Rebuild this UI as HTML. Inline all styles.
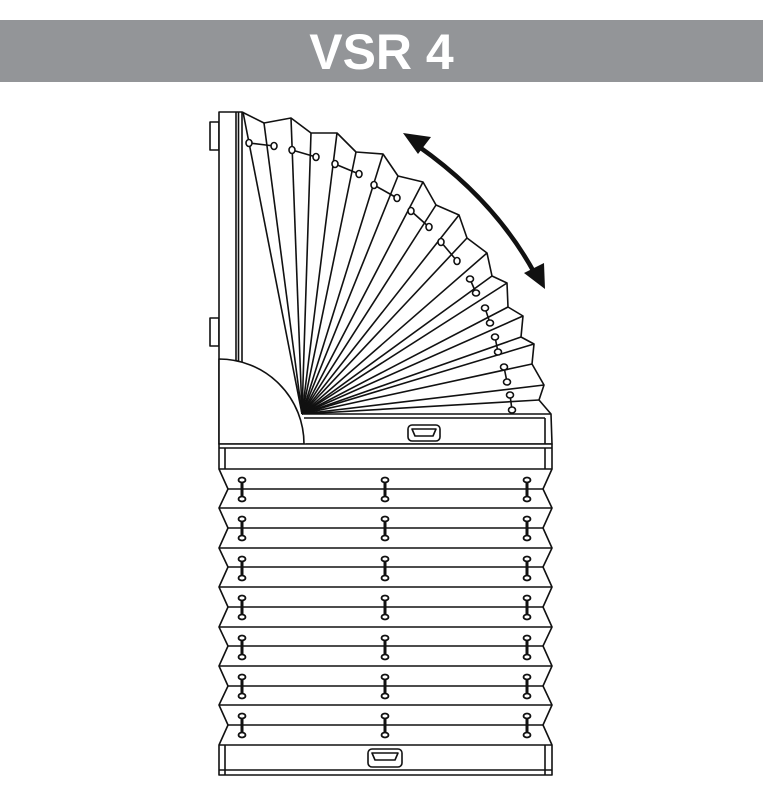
<!DOCTYPE html>
<html><head><meta charset="utf-8"><style>
html,body{margin:0;padding:0;background:#fff;width:763px;height:800px;overflow:hidden}
</style></head><body>
<svg width="763" height="800" viewBox="0 0 763 800" xmlns="http://www.w3.org/2000/svg">
<rect x="0" y="20" width="763" height="62" fill="#939598"/>
<text x="381.5" y="69" text-anchor="middle" font-family="Liberation Sans, sans-serif" font-weight="bold" font-size="50" fill="#fff">VSR 4</text>
<g fill="none" stroke="#111" stroke-width="1.6" stroke-linejoin="round">
<rect x="210" y="122" width="9" height="28" fill="#fff"/>
<rect x="210" y="318" width="9" height="28" fill="#fff"/>
<rect x="219" y="112" width="23" height="332" fill="#fff"/>
<line x1="236" y1="112" x2="236" y2="362"/>
<line x1="238.5" y1="112" x2="238.5" y2="362"/>
<g>
<line x1="302" y1="414" x2="243" y2="112"/>
<line x1="302" y1="414" x2="264" y2="123"/>
<line x1="302" y1="414" x2="291" y2="118"/>
<line x1="302" y1="414" x2="311" y2="133"/>
<line x1="302" y1="414" x2="337" y2="133"/>
<line x1="302" y1="414" x2="356" y2="152"/>
<line x1="302" y1="414" x2="383" y2="154"/>
<line x1="302" y1="414" x2="398" y2="176"/>
<line x1="302" y1="414" x2="423" y2="182"/>
<line x1="302" y1="414" x2="436" y2="205"/>
<line x1="302" y1="414" x2="459" y2="215"/>
<line x1="302" y1="414" x2="467" y2="238"/>
<line x1="302" y1="414" x2="487" y2="253"/>
<line x1="302" y1="414" x2="492" y2="276"/>
<line x1="302" y1="414" x2="507" y2="283"/>
<line x1="302" y1="414" x2="508" y2="307"/>
<line x1="302" y1="414" x2="523" y2="316"/>
<line x1="302" y1="414" x2="521" y2="337"/>
<line x1="302" y1="414" x2="534" y2="344"/>
<line x1="302" y1="414" x2="532" y2="364"/>
<line x1="302" y1="414" x2="544" y2="385"/>
<line x1="302" y1="414" x2="539" y2="400"/>
</g>
<polyline points="242,112 264,123 291,118 311,133 337,133 356,152 383,154 398,176 423,182 436,205 459,215 467,238 487,253 492,276 507,283 508,307 523,316 521,337 534,344 532,364 544,385 539,400 551,414"/>
<path d="M219,444 L219,359 A85,85 0 0 1 304,444 Z" fill="#fff"/>
<path d="M304,414 L551,414 L552,444 L306,444" fill="#fff"/>
<line x1="304" y1="418" x2="545" y2="418"/>
<line x1="545" y1="418" x2="545" y2="444"/>
<rect x="408" y="425" width="32" height="16" rx="4" fill="#fff"/>
<path d="M412,429 L436,429 L433,436 L415,436 Z"/>
<g>
<line x1="249" y1="143" x2="274" y2="146"/><ellipse cx="249" cy="143" rx="3" ry="3.5" fill="#fff"/><ellipse cx="274" cy="146" rx="3" ry="3.5" fill="#fff"/>
<line x1="292" y1="150" x2="316" y2="157"/><ellipse cx="292" cy="150" rx="3" ry="3.5" fill="#fff"/><ellipse cx="316" cy="157" rx="3" ry="3.5" fill="#fff"/>
<line x1="335" y1="164" x2="359" y2="174"/><ellipse cx="335" cy="164" rx="3" ry="3.5" fill="#fff"/><ellipse cx="359" cy="174" rx="3" ry="3.5" fill="#fff"/>
<line x1="374" y1="185" x2="397" y2="198"/><ellipse cx="374" cy="185" rx="3" ry="3.5" fill="#fff"/><ellipse cx="397" cy="198" rx="3" ry="3.5" fill="#fff"/>
<line x1="411" y1="211" x2="429" y2="227"/><ellipse cx="411" cy="211" rx="3" ry="3.5" fill="#fff"/><ellipse cx="429" cy="227" rx="3" ry="3.5" fill="#fff"/>
<line x1="441" y1="242" x2="457" y2="261"/><ellipse cx="441" cy="242" rx="3" ry="3.5" fill="#fff"/><ellipse cx="457" cy="261" rx="3" ry="3.5" fill="#fff"/>
<line x1="470" y1="279" x2="476" y2="293"/><ellipse cx="470" cy="279" rx="3.5" ry="3" fill="#fff"/><ellipse cx="476" cy="293" rx="3.5" ry="3" fill="#fff"/>
<line x1="485" y1="308" x2="490" y2="323"/><ellipse cx="485" cy="308" rx="3.5" ry="3" fill="#fff"/><ellipse cx="490" cy="323" rx="3.5" ry="3" fill="#fff"/>
<line x1="495" y1="337" x2="498" y2="352"/><ellipse cx="495" cy="337" rx="3.5" ry="3" fill="#fff"/><ellipse cx="498" cy="352" rx="3.5" ry="3" fill="#fff"/>
<line x1="504" y1="367" x2="507" y2="382"/><ellipse cx="504" cy="367" rx="3.5" ry="3" fill="#fff"/><ellipse cx="507" cy="382" rx="3.5" ry="3" fill="#fff"/>
<line x1="510" y1="395" x2="512" y2="410"/><ellipse cx="510" cy="395" rx="3.5" ry="3" fill="#fff"/><ellipse cx="512" cy="410" rx="3.5" ry="3" fill="#fff"/>
</g>
<rect x="219" y="444" width="333" height="25" fill="#fff"/>
<line x1="219" y1="448" x2="552" y2="448"/>
<line x1="225" y1="448" x2="225" y2="469"/>
<line x1="545" y1="448" x2="545" y2="469"/>
<polyline points="219,469 228,489 219,508 228,528 219,548 228,567 219,587 228,607 219,627 228,646 219,666 228,686 219,705 228,725 219,745"/>
<polyline points="552,469 543,489 552,508 543,528 552,548 543,567 552,587 543,607 552,627 543,646 552,666 543,686 552,705 543,725 552,745"/>
<g>
<line x1="219" y1="508" x2="552" y2="508"/><line x1="219" y1="548" x2="552" y2="548"/><line x1="219" y1="587" x2="552" y2="587"/><line x1="219" y1="627" x2="552" y2="627"/><line x1="219" y1="666" x2="552" y2="666"/><line x1="219" y1="705" x2="552" y2="705"/>
<line x1="228" y1="489" x2="543" y2="489"/><line x1="228" y1="528" x2="543" y2="528"/><line x1="228" y1="567" x2="543" y2="567"/><line x1="228" y1="607" x2="543" y2="607"/><line x1="228" y1="646" x2="543" y2="646"/><line x1="228" y1="686" x2="543" y2="686"/><line x1="228" y1="725" x2="543" y2="725"/>
</g>
<rect x="219" y="745" width="333" height="30" fill="#fff"/>
<line x1="225" y1="745" x2="225" y2="775"/>
<line x1="545" y1="745" x2="545" y2="775"/>
<line x1="219" y1="770" x2="552" y2="770"/>
<rect x="368" y="749" width="34" height="18" rx="4" fill="#fff"/>
<path d="M372,753 L398,753 L395,760 L375,760 Z"/>
<path d="M418,146 Q495,200 535,274" stroke-width="4.5" stroke-linecap="round"/>
</g>
<polygon points="403,133 431,137 418,154" fill="#111"/>
<polygon points="545,289 524,273 544,263" fill="#111"/>
<g stroke="#111" fill="#fff">
<g stroke-width="3">
<line x1="242" y1="480" x2="242" y2="499"/><line x1="385" y1="480" x2="385" y2="499"/><line x1="527" y1="480" x2="527" y2="499"/>
<line x1="242" y1="519" x2="242" y2="538"/><line x1="385" y1="519" x2="385" y2="538"/><line x1="527" y1="519" x2="527" y2="538"/>
<line x1="242" y1="559" x2="242" y2="578"/><line x1="385" y1="559" x2="385" y2="578"/><line x1="527" y1="559" x2="527" y2="578"/>
<line x1="242" y1="598" x2="242" y2="617"/><line x1="385" y1="598" x2="385" y2="617"/><line x1="527" y1="598" x2="527" y2="617"/>
<line x1="242" y1="638" x2="242" y2="657"/><line x1="385" y1="638" x2="385" y2="657"/><line x1="527" y1="638" x2="527" y2="657"/>
<line x1="242" y1="677" x2="242" y2="696"/><line x1="385" y1="677" x2="385" y2="696"/><line x1="527" y1="677" x2="527" y2="696"/>
<line x1="242" y1="716" x2="242" y2="735"/><line x1="385" y1="716" x2="385" y2="735"/><line x1="527" y1="716" x2="527" y2="735"/>
</g>
<g stroke-width="1.8">
<ellipse cx="242" cy="480" rx="3.5" ry="2.5"/><ellipse cx="385" cy="480" rx="3.5" ry="2.5"/><ellipse cx="527" cy="480" rx="3.5" ry="2.5"/>
<ellipse cx="242" cy="499" rx="3.5" ry="2.5"/><ellipse cx="385" cy="499" rx="3.5" ry="2.5"/><ellipse cx="527" cy="499" rx="3.5" ry="2.5"/>
<ellipse cx="242" cy="519" rx="3.5" ry="2.5"/><ellipse cx="385" cy="519" rx="3.5" ry="2.5"/><ellipse cx="527" cy="519" rx="3.5" ry="2.5"/>
<ellipse cx="242" cy="538" rx="3.5" ry="2.5"/><ellipse cx="385" cy="538" rx="3.5" ry="2.5"/><ellipse cx="527" cy="538" rx="3.5" ry="2.5"/>
<ellipse cx="242" cy="559" rx="3.5" ry="2.5"/><ellipse cx="385" cy="559" rx="3.5" ry="2.5"/><ellipse cx="527" cy="559" rx="3.5" ry="2.5"/>
<ellipse cx="242" cy="578" rx="3.5" ry="2.5"/><ellipse cx="385" cy="578" rx="3.5" ry="2.5"/><ellipse cx="527" cy="578" rx="3.5" ry="2.5"/>
<ellipse cx="242" cy="598" rx="3.5" ry="2.5"/><ellipse cx="385" cy="598" rx="3.5" ry="2.5"/><ellipse cx="527" cy="598" rx="3.5" ry="2.5"/>
<ellipse cx="242" cy="617" rx="3.5" ry="2.5"/><ellipse cx="385" cy="617" rx="3.5" ry="2.5"/><ellipse cx="527" cy="617" rx="3.5" ry="2.5"/>
<ellipse cx="242" cy="638" rx="3.5" ry="2.5"/><ellipse cx="385" cy="638" rx="3.5" ry="2.5"/><ellipse cx="527" cy="638" rx="3.5" ry="2.5"/>
<ellipse cx="242" cy="657" rx="3.5" ry="2.5"/><ellipse cx="385" cy="657" rx="3.5" ry="2.5"/><ellipse cx="527" cy="657" rx="3.5" ry="2.5"/>
<ellipse cx="242" cy="677" rx="3.5" ry="2.5"/><ellipse cx="385" cy="677" rx="3.5" ry="2.5"/><ellipse cx="527" cy="677" rx="3.5" ry="2.5"/>
<ellipse cx="242" cy="696" rx="3.5" ry="2.5"/><ellipse cx="385" cy="696" rx="3.5" ry="2.5"/><ellipse cx="527" cy="696" rx="3.5" ry="2.5"/>
<ellipse cx="242" cy="716" rx="3.5" ry="2.5"/><ellipse cx="385" cy="716" rx="3.5" ry="2.5"/><ellipse cx="527" cy="716" rx="3.5" ry="2.5"/>
<ellipse cx="242" cy="735" rx="3.5" ry="2.5"/><ellipse cx="385" cy="735" rx="3.5" ry="2.5"/><ellipse cx="527" cy="735" rx="3.5" ry="2.5"/>
</g>
</g>
</svg>
</body></html>
